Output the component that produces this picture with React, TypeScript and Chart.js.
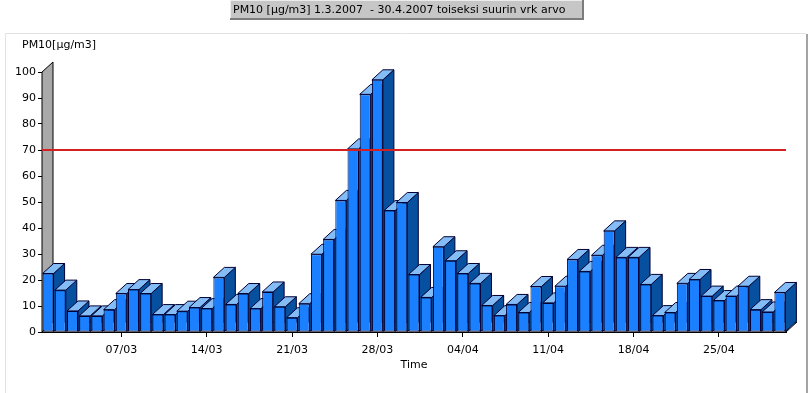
import React, { useEffect, useRef } from 'react';
import { Chart, registerables } from 'chart.js';

Chart.register(...registerables);

const chartTitle = 'PM10 [µg/m3] 1.3.2007  - 30.4.2007 toiseksi suurin vrk arvo';
const yAxisTitle = 'PM10[µg/m3]';
const xAxisTitle = 'Time';

const marchDays = [
  '01/03', '02/03', '03/03', '04/03', '05/03', '06/03', '07/03', '08/03', '09/03', '10/03',
  '11/03', '12/03', '13/03', '14/03', '15/03', '16/03', '17/03', '18/03', '19/03', '20/03',
  '21/03', '22/03', '23/03', '24/03', '25/03', '26/03', '27/03', '28/03', '29/03', '30/03', '31/03',
];
const aprilDays = [
  '01/04', '02/04', '03/04', '04/04', '05/04', '06/04', '07/04', '08/04', '09/04', '10/04',
  '11/04', '12/04', '13/04', '14/04', '15/04', '16/04', '17/04', '18/04', '19/04', '20/04',
  '21/04', '22/04', '23/04', '24/04', '25/04', '26/04', '27/04', '28/04', '29/04', '30/04',
];
const categories = [...marchDays, ...aprilDays];

const marchValues = [
  22.5, 16.1, 8.1, 6.2, 6.2, 8.6, 14.8, 16.3, 14.8, 6.7,
  6.7, 8.0, 9.4, 9.0, 21.0, 10.6, 14.8, 9.0, 15.4, 9.7,
  5.5, 10.9, 29.9, 35.6, 50.6, 70.4, 91.4, 97.0, 46.7, 49.8, 22.1,
];
const aprilValues = [
  13.3, 32.8, 27.4, 22.5, 18.7, 10.2, 6.3, 10.6, 7.5, 17.5,
  11.2, 17.6, 27.9, 23.3, 29.5, 38.9, 28.7, 28.7, 18.3, 6.3,
  7.5, 18.7, 20.2, 13.8, 12.1, 13.8, 17.6, 8.6, 7.7, 15.2,
];
const pm10Values = [...marchValues, ...aprilValues];

const limitValue = 70;
const shownTickLabels = ['07/03', '14/03', '21/03', '28/03', '04/04', '11/04', '18/04', '25/04'];
const yMin = 0;
const yMax = 100;
const yStep = 5;
const yLabelStep = 10;

const FONT = 'DejaVu Sans';
const DX = 11;
const DY = 10;
const FRONT = '#1a80ff';
const TOP = '#84bcf6';
const SIDE = '#07509f';
const EDGE = '#000033';

function poly(ctx: CanvasRenderingContext2D, pts: number[][], fill: string, stroke: string) {
  ctx.beginPath();
  ctx.moveTo(pts[0][0], pts[0][1]);
  for (let i = 1; i < pts.length; i++) ctx.lineTo(pts[i][0], pts[i][1]);
  ctx.closePath();
  ctx.fillStyle = fill;
  ctx.fill();
  ctx.strokeStyle = stroke;
  ctx.lineWidth = 1;
  ctx.stroke();
}

const decorPlugin = {
  id: 'decor3d',
  beforeDraw(chart: any) {
    const ctx: CanvasRenderingContext2D = chart.ctx;
    const w = chart.width;
    const h = chart.height;
    ctx.save();
    ctx.fillStyle = '#ffffff';
    ctx.fillRect(0, 0, w, h);
    // panel frame
    ctx.strokeStyle = '#e2e2e2';
    ctx.lineWidth = 1;
    ctx.beginPath();
    ctx.moveTo(5.5, h);
    ctx.lineTo(5.5, 33.5);
    ctx.lineTo(806, 33.5);
    ctx.stroke();
    ctx.fillStyle = '#a4a4a4';
    ctx.fillRect(806, 34, 2, h - 34);
    // title box
    const bx = 230, by = 0, bw = 353, bh = 19;
    ctx.fillStyle = '#c6c6c6';
    ctx.fillRect(bx, by, bw, bh);
    ctx.fillStyle = '#ececec';
    ctx.fillRect(bx, by, bw, 1);
    ctx.fillRect(bx, by, 1, bh);
    ctx.fillStyle = '#7c7c7c';
    ctx.fillRect(bx, by + bh - 1, bw, 2);
    ctx.fillRect(bx + bw - 1, by, 2, bh + 1);
    ctx.fillStyle = '#000000';
    ctx.font = `11px "${FONT}"`;
    ctx.textBaseline = 'middle';
    ctx.textAlign = 'left';
    ctx.fillText(chartTitle, bx + 3, by + 10, bw - 7);
    // y axis title
    ctx.fillText(yAxisTitle, chart.chartArea.left - 20, chart.chartArea.top - 27);
    ctx.restore();
  },
  beforeDatasetsDraw(chart: any) {
    const ctx: CanvasRenderingContext2D = chart.ctx;
    const { left, right, top, bottom } = chart.chartArea;
    ctx.save();
    // floor
    poly(ctx, [[left, bottom], [right, bottom], [right + DX, bottom - DY], [left + DX, bottom - DY]], '#ffffff', '#000000');
    // back wall
    poly(ctx, [[left, bottom], [left, top], [left + DX, top - DY], [left + DX, bottom - DY]], '#a9a9a9', '#000000');
    // depth faces of bars
    const meta = chart.getDatasetMeta(0);
    meta.data.forEach((bar: any) => {
      const { x, y, base, width } = bar.getProps(['x', 'y', 'base', 'width'], true);
      const x0 = x - width / 2;
      const x1 = x + width / 2;
      poly(ctx, [[x1, y], [x1 + DX, y - DY], [x1 + DX, base - DY], [x1, base]], SIDE, EDGE);
      poly(ctx, [[x0, y], [x1, y], [x1 + DX, y - DY], [x0 + DX, y - DY]], TOP, EDGE);
    });
    ctx.restore();
  },
  afterDatasetsDraw(chart: any) {
    const ctx: CanvasRenderingContext2D = chart.ctx;
    const { left, right } = chart.chartArea;
    const yPix = chart.scales.y.getPixelForValue(limitValue);
    ctx.save();
    ctx.strokeStyle = '#d42020';
    ctx.lineWidth = 2;
    ctx.beginPath();
    ctx.moveTo(left, yPix);
    ctx.lineTo(right, yPix);
    ctx.stroke();
    ctx.restore();
  },
};

export default function App() {
  const canvasRef = useRef<HTMLCanvasElement | null>(null);

  useEffect(() => {
    const canvas = canvasRef.current;
    if (!canvas) return;
    const chart = new Chart(canvas, {
      type: 'bar',
      data: {
        labels: categories,
        datasets: [
          {
            label: 'PM10',
            data: pm10Values,
            backgroundColor: FRONT,
            borderColor: EDGE,
            borderWidth: 1,
            borderSkipped: false,
            barPercentage: 0.9,
            categoryPercentage: 1.0,
          },
        ],
      },
      options: {
        responsive: false,
        animation: false,
        events: [],
        layout: { padding: { left: 0, right: 24, top: 72, bottom: 17 } },
        plugins: {
          legend: { display: false },
          tooltip: { enabled: false },
          title: { display: false },
        },
        scales: {
          x: {
            offset: true,
            grid: {
              offset: false,
              drawOnChartArea: false,
              tickLength: 5,
              tickColor: (c: any) => (shownTickLabels.includes(categories[c.index]) ? '#000000' : 'rgba(0,0,0,0)'),
            },
            border: { color: '#000000' },
            ticks: {
              autoSkip: false,
              maxRotation: 0,
              minRotation: 0,
              padding: 7,
              color: '#000000',
              font: { family: FONT, size: 11 },
              callback: (_v: any, i: number) => (shownTickLabels.includes(categories[i]) ? categories[i] : ''),
            },
            title: {
              display: true,
              text: xAxisTitle,
              color: '#000000',
              font: { family: FONT, size: 11 },
              padding: { top: 1, bottom: 4 },
            },
            afterFit: (s: any) => {
              s.height = 44;
            },
          },
          y: {
            min: yMin,
            max: yMax,
            grid: { drawOnChartArea: false, tickLength: 4, tickColor: '#000000' },
            border: { color: '#000000' },
            ticks: {
              stepSize: yStep,
              padding: 2,
              color: '#000000',
              font: { family: FONT, size: 11 },
              callback: (v: any) => (Number(v) % yLabelStep === 0 ? String(v) : ''),
            },
            afterFit: (s: any) => {
              s.width = 42;
            },
          },
        },
      },
      plugins: [decorPlugin],
    });
    return () => chart.destroy();
  }, []);

  return (
    <div style={{ position: 'absolute', left: 0, top: 0, width: 810, height: 393, background: '#fff' }}>
      <canvas ref={canvasRef} width={810} height={393} style={{ display: 'block' }} />
    </div>
  );
}
